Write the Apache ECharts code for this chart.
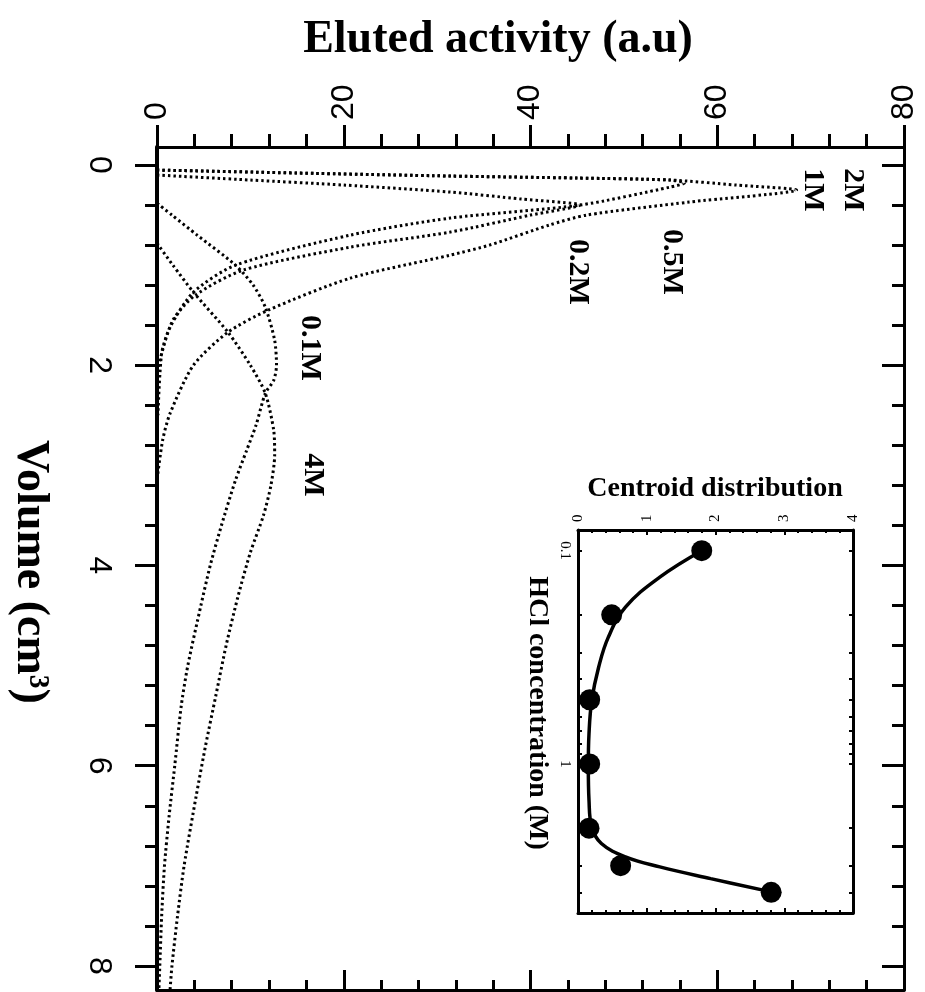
<!DOCTYPE html>
<html>
<head>
<meta charset="utf-8">
<script src="https://cdn.jsdelivr.net/npm/echarts@6/dist/echarts.min.js"></script>
<style>
  html, body { margin: 0; padding: 0; background: #fff; }
  #chart { width: 925px; height: 992px; }
</style>
</head>
<body>
<div id="chart"></div>
<script>
// Elution profiles: eluted activity (a.u.) versus eluted volume (cm3) for several HCl concentrations
const vol_01M = [0.38, 0.5, 0.7, 1.0, 1.2, 1.42, 1.75, 2.0, 2.15, 2.28, 2.6, 2.85, 3.15, 3.6, 4.0, 4.4, 5.0, 5.4, 6.0, 6.5, 7.0, 7.5, 8.0, 8.24];
const act_01M = [0, 1.6, 4.3, 8.4, 10.3, 11.6, 12.6, 12.8, 12.5, 11.6, 10.6, 9.6, 8.4, 6.9, 5.7, 4.7, 3.3, 2.6, 1.9, 1.3, 0.8, 0.5, 0.3, 0.2];

const vol_02M = [0.1, 0.15, 0.2, 0.27, 0.34, 0.40, 0.5, 0.67, 0.82, 1.05, 1.3, 1.55, 1.95, 2.1];
const act_02M = [0, 10, 20, 31.4, 39, 45.3, 40, 31.4, 20.7, 9.2, 4.1, 1.7, 0.3, 0];

const vol_1M = [0.05, 0.08, 0.11, 0.13, 0.15, 0.2, 0.25, 0.37, 0.5, 0.6, 0.8, 0.9, 1.13, 1.45, 1.67, 2.0, 2.48, 2.75, 3.15];
const act_1M = [0, 15, 31.4, 45, 55, 62, 68.5, 57, 46, 42, 35.6, 31.4, 20.7, 11.9, 7.6, 3.9, 1.4, 0.6, 0];

const vol_2M = [0.05, 0.08, 0.11, 0.13, 0.15, 0.18, 0.22, 0.4, 0.53, 0.7, 1.0, 1.27, 1.62, 1.88, 2.5];
const act_2M = [0, 15, 31.4, 45, 55, 56.5, 55, 45.3, 31.4, 20.7, 8.4, 3.9, 1.4, 0.5, 0.1];

const vol_4M = [0.78, 1.0, 1.27, 1.67, 2.0, 2.28, 2.65, 2.9, 3.2, 3.5, 3.87, 4.3, 4.8, 5.3, 5.8, 6.3, 7.0, 7.5, 8.0, 8.24];
const act_4M = [0, 1.7, 3.9, 7.6, 10.0, 11.6, 12.5, 12.6, 12.2, 11.4, 10.0, 8.7, 7.4, 6.3, 5.2, 4.2, 2.9, 2.2, 1.6, 1.4];

// Axis ticks
const activityTicks = [0, 20, 40, 60, 80];
const volumeTicks = [0, 2, 4, 6, 8];
const volumeMinorTicks = [0.4, 0.8, 1.2, 1.6, 2.4, 2.8, 3.2, 3.6, 4.4, 4.8, 5.2, 5.6, 6.4, 6.8, 7.2, 7.6];

// Inset: centroid of the elution peak versus HCl concentration
const hclConc = [0.1, 0.2, 0.5, 1, 2, 3, 4];
const centroid = [1.80, 0.49, 0.17, 0.17, 0.16, 0.62, 2.81];
// hand-drawn trend line through the centroids
const trendConc = [0.1, 0.133, 0.184, 0.255, 0.352, 0.504, 0.722, 1.03, 1.48, 1.98, 2.36, 2.73, 3.04, 3.45, 3.98];
const trendCentroid = [1.80, 1.19, 0.69, 0.44, 0.30, 0.20, 0.16, 0.15, 0.16, 0.20, 0.34, 0.69, 1.19, 1.93, 2.81];
const insetConcLabels = [0.1, 1];
const insetConcTicks = [0.1, 0.2, 0.3, 0.4, 0.5, 0.6, 0.7, 0.8, 0.9, 1, 2, 3, 4, 5];

const SERIF = "'Liberation Serif', 'Times New Roman', serif";
const SANS = "'Liberation Sans', Arial, sans-serif";
const INK = '#000';

function pairs(acts, vols) { return acts.map((a, i) => [a, vols[i]]); }

const dotted = { color: INK, width: 3, type: [2.5, 3], cap: 'butt' };

function profile(name, acts, vols) {
  return {
    name: name, type: 'line', xAxisIndex: 0, yAxisIndex: 0,
    data: pairs(acts, vols), showSymbol: false, smooth: 0.25,
    lineStyle: dotted, z: 3
  };
}

function frameLine(width) {
  return { show: true, onZero: false, lineStyle: { color: INK, width: width } };
}
const noLine = { show: false, onZero: false };

const volAxisBase = { gridIndex: 0, type: 'value', inverse: true, min: -0.18, max: 8.24, splitLine: { show: false } };

const option = {
  animation: false,
  backgroundColor: '#fff',
  grid: [
    { left: 157, top: 147, width: 747, height: 843 },
    { left: 578, top: 530, width: 275, height: 383 }
  ],
  xAxis: [
    { gridIndex: 0, type: 'value', position: 'top', min: 0, max: 80, interval: 20,
      axisLine: frameLine(3),
      axisTick: { show: true, inside: false, length: 22, lineStyle: { color: INK, width: 3 } },
      minorTick: { show: true, splitNumber: 5, length: 13, lineStyle: { color: INK, width: 3 } },
      axisLabel: { rotate: -90, margin: 27, fontSize: 32, fontFamily: SANS, color: INK },
      splitLine: { show: false } },
    { gridIndex: 0, type: 'value', position: 'bottom', min: 0, max: 80, interval: 20,
      axisLine: frameLine(3),
      axisTick: { show: true, inside: true, length: 20, lineStyle: { color: INK, width: 3 } },
      minorTick: { show: true, splitNumber: 5, length: 10, lineStyle: { color: INK, width: 3 } },
      axisLabel: { show: false }, splitLine: { show: false } },
    { gridIndex: 1, type: 'value', position: 'top', min: 0, max: 4, interval: 1,
      axisLine: frameLine(3),
      axisTick: { show: true, inside: true, length: 5, lineStyle: { color: INK, width: 2 } },
      minorTick: { show: true, splitNumber: 5, length: 3, lineStyle: { color: INK, width: 2 } },
      axisLabel: { rotate: -90, margin: 8, fontSize: 15, fontFamily: SERIF, color: INK },
      splitLine: { show: false } },
    { gridIndex: 1, type: 'value', position: 'bottom', min: 0, max: 4, interval: 1,
      axisLine: frameLine(3),
      axisTick: { show: true, inside: true, length: 5, lineStyle: { color: INK, width: 2 } },
      minorTick: { show: true, splitNumber: 5, length: 3, lineStyle: { color: INK, width: 2 } },
      axisLabel: { show: false }, splitLine: { show: false } }
  ],
  yAxis: [
    Object.assign({}, volAxisBase, { position: 'left',
      axisLine: frameLine(4),
      axisTick: { show: true, inside: false, length: 22, customValues: volumeTicks, lineStyle: { color: INK, width: 3 } },
      axisLabel: { customValues: volumeTicks, rotate: -90, margin: 42, fontSize: 32, fontFamily: SANS, color: INK } }),
    Object.assign({}, volAxisBase, { position: 'left',
      axisLine: noLine,
      axisTick: { show: true, inside: false, length: 12, customValues: volumeMinorTicks, lineStyle: { color: INK, width: 3 } },
      axisLabel: { show: false } }),
    Object.assign({}, volAxisBase, { position: 'right',
      axisLine: frameLine(3),
      axisTick: { show: true, inside: true, length: 22, customValues: volumeTicks, lineStyle: { color: INK, width: 3 } },
      axisLabel: { show: false } }),
    Object.assign({}, volAxisBase, { position: 'right',
      axisLine: noLine,
      axisTick: { show: true, inside: true, length: 12, customValues: volumeMinorTicks, lineStyle: { color: INK, width: 3 } },
      axisLabel: { show: false } }),
    { gridIndex: 1, type: 'log', logBase: 10, inverse: true, min: 0.08, max: 5, position: 'left',
      axisLine: frameLine(3),
      axisTick: { show: true, inside: true, length: 4, customValues: insetConcTicks, lineStyle: { color: INK, width: 2 } },
      axisLabel: { customValues: insetConcLabels, rotate: -90, margin: 6, fontSize: 15, fontFamily: SERIF, color: INK },
      splitLine: { show: false } },
    { gridIndex: 1, type: 'log', logBase: 10, inverse: true, min: 0.08, max: 5, position: 'right',
      axisLine: frameLine(3),
      axisTick: { show: true, inside: true, length: 4, customValues: insetConcTicks, lineStyle: { color: INK, width: 2 } },
      axisLabel: { show: false }, splitLine: { show: false } }
  ],
  series: [
    profile('0.1M', act_01M, vol_01M),
    profile('0.2M', act_02M, vol_02M),
    profile('1M', act_1M, vol_1M),
    profile('2M', act_2M, vol_2M),
    profile('4M', act_4M, vol_4M),
    { name: 'trend', type: 'line', xAxisIndex: 2, yAxisIndex: 4,
      data: trendCentroid.map((c, i) => [c, trendConc[i]]),
      smooth: 0.4, showSymbol: false, lineStyle: { color: INK, width: 3.5 }, z: 4 },
    { name: 'centroid', type: 'scatter', xAxisIndex: 2, yAxisIndex: 4,
      data: centroid.map((c, i) => [c, hclConc[i]]),
      symbol: 'circle', symbolSize: 21, itemStyle: { color: INK, opacity: 1 }, z: 5 }
  ],
  graphic: [
    { type: 'text', x: 498, y: 40, style: { text: 'Eluted activity (a.u)', font: 'bold 46px ' + SERIF, fill: INK, align: 'center', verticalAlign: 'middle' } },
    { type: 'text', x: 30, y: 572, rotation: -Math.PI / 2, style: { text: 'Volume (cm³)', font: 'bold 46px ' + SERIF, fill: INK, align: 'center', verticalAlign: 'middle' } },
    { type: 'text', x: 715, y: 489, style: { text: 'Centroid distribution', font: 'bold 28px ' + SERIF, fill: INK, align: 'center', verticalAlign: 'middle' } },
    { type: 'text', x: 537, y: 713, rotation: -Math.PI / 2, style: { text: 'HCl concentration (M)', font: 'bold 28px ' + SERIF, fill: INK, align: 'center', verticalAlign: 'middle' } },
    { type: 'text', x: 853, y: 190, rotation: -Math.PI / 2, style: { text: '2M', font: 'bold 30px ' + SERIF, fill: INK, align: 'center', verticalAlign: 'middle' } },
    { type: 'text', x: 813, y: 190, rotation: -Math.PI / 2, style: { text: '1M', font: 'bold 30px ' + SERIF, fill: INK, align: 'center', verticalAlign: 'middle' } },
    { type: 'text', x: 672, y: 262, rotation: -Math.PI / 2, style: { text: '0.5M', font: 'bold 30px ' + SERIF, fill: INK, align: 'center', verticalAlign: 'middle' } },
    { type: 'text', x: 578, y: 272, rotation: -Math.PI / 2, style: { text: '0.2M', font: 'bold 30px ' + SERIF, fill: INK, align: 'center', verticalAlign: 'middle' } },
    { type: 'text', x: 310, y: 348, rotation: -Math.PI / 2, style: { text: '0.1M', font: 'bold 30px ' + SERIF, fill: INK, align: 'center', verticalAlign: 'middle' } },
    { type: 'text', x: 313, y: 475, rotation: -Math.PI / 2, style: { text: '4M', font: 'bold 30px ' + SERIF, fill: INK, align: 'center', verticalAlign: 'middle' } }
  ]
};

const chart = echarts.init(document.getElementById('chart'), null, { renderer: 'canvas' });
chart.setOption(option);
</script>
</body>
</html>
